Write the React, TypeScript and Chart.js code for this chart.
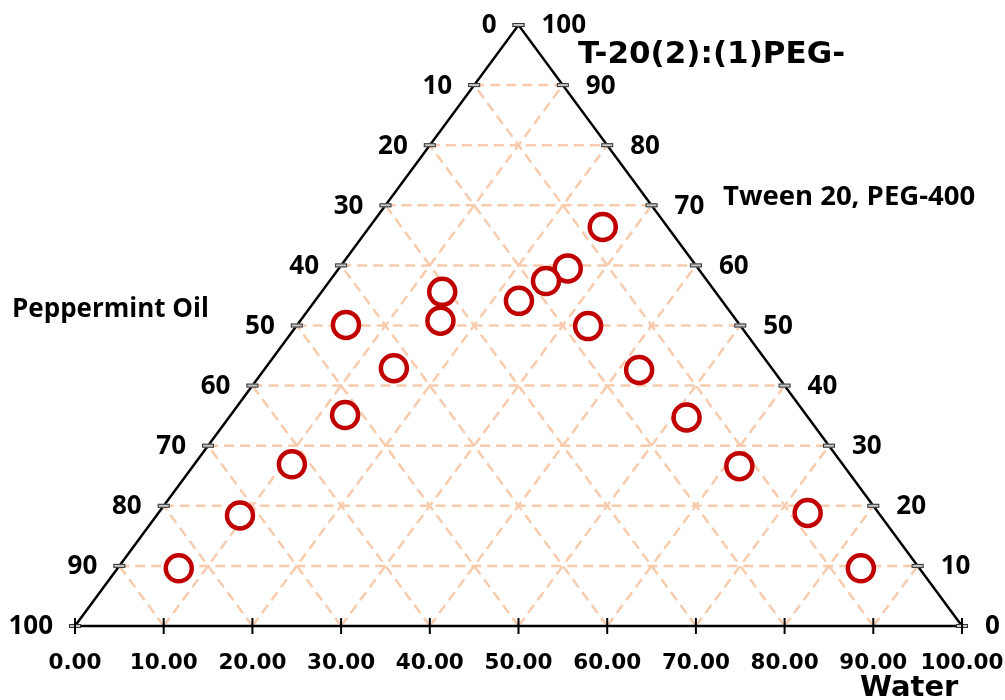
import React, { useEffect, useRef } from "react";
import { Chart, registerables } from "chart.js";

Chart.register(...registerables);

// Composition of each formulation (percent): Water and Tween 20 / PEG-400 (Smix); oil = 100 - water - smix
const waterValues = [26.3, 25.8, 24.4, 23.0, 13.6, 15.8, 5.5, 32.9, 14.5, 42.3, 12.9, 51.6, 11.0, 61.6, 9.4, 73.2, 6.9, 83.8];
const smixValues = [66.4, 59.5, 57.4, 54.1, 55.6, 50.8, 50.1, 49.9, 42.9, 42.6, 35.1, 34.7, 26.9, 26.6, 18.4, 18.8, 9.6, 9.6];

const gridSteps = [10, 20, 30, 40, 50, 60, 70, 80, 90];
const tickSteps = [0, 10, 20, 30, 40, 50, 60, 70, 80, 90, 100];
const bottomTickLabels = ["0.00", "10.00", "20.00", "30.00", "40.00", "50.00", "60.00", "70.00", "80.00", "90.00", "100.00"];
const leftTickLabels = ["100", "90", "80", "70", "60", "50", "40", "30", "20", "10", "0"];
const rightTickLabels = ["0", "10", "20", "30", "40", "50", "60", "70", "80", "90", "100"];

const titleText = "T-20(2):(1)PEG-";
const smixAxisTitle = "Tween 20, PEG-400";
const oilAxisTitle = "Peppermint Oil";
const waterAxisTitle = "Water";

// ternary -> cartesian (x along base, y = height)
const toXY = (water: number, smix: number) => ({ x: water + smix / 2, y: smix });

const GRID_COLOR = "#F8CBAD";

function buildDatasets() {
  const ds: any[] = [];
  const lineDs = (pts: { x: number; y: number }[]) => ({
    data: pts,
    showLine: true,
    borderColor: GRID_COLOR,
    borderWidth: 2.5,
    borderDash: [10, 6],
    pointRadius: 0,
    pointHoverRadius: 0,
    clip: false,
    order: 3,
  });
  for (const s of gridSteps) {
    // constant smix (horizontal)
    ds.push(lineDs([toXY(0, s), toXY(100 - s, s)]));
    // constant water
    ds.push(lineDs([toXY(s, 0), toXY(s, 100 - s)]));
    // constant oil (water + smix = 100 - s)
    ds.push(lineDs([toXY(100 - s, 0), toXY(0, 100 - s)]));
  }
  ds.push({
    data: [toXY(0, 0), toXY(0, 100), toXY(100, 0), toXY(0, 0)],
    showLine: true,
    borderColor: "#000000",
    borderWidth: 2.5,
    pointRadius: 0,
    pointHoverRadius: 0,
    clip: false,
    order: 2,
  });
  ds.push({
    data: waterValues.map((w, i) => toXY(w, smixValues[i])),
    showLine: false,
    pointStyle: "circle",
    pointRadius: 13,
    pointHoverRadius: 13,
    borderWidth: 4.5,
    borderColor: "#C00000",
    backgroundColor: "#FFFFFF",
    clip: false,
    order: 1,
  });
  return ds;
}

const overlayPlugin = {
  id: "ternaryOverlay",
  afterDraw(chart: any) {
    const { ctx, scales } = chart;
    const xs = scales.x;
    const ys = scales.y;
    const px = (p: { x: number; y: number }) => ({ x: xs.getPixelForValue(p.x), y: ys.getPixelForValue(p.y) });
    ctx.save();

    // side ticks (small boxes)
    const box = (cx: number, cy: number) => {
      ctx.fillStyle = "#C8C8C8";
      ctx.fillRect(cx - 6, cy - 2, 12, 4);
      ctx.strokeStyle = "#333333";
      ctx.lineWidth = 1;
      ctx.strokeRect(cx - 6 + 0.5, cy - 2 + 0.5, 11, 3);
    };

    ctx.textBaseline = "middle";
    tickSteps.forEach((t) => {
      const l = px(toXY(0, t));
      box(l.x, l.y);
      const r = px(toXY(100 - t, t));
      box(r.x, r.y);
    });

    ctx.fillStyle = "#000000";
    ctx.font = "bold 26px 'Open Sans'";
    tickSteps.forEach((t, i) => {
      const l = px(toXY(0, t));
      ctx.textAlign = "right";
      ctx.fillText(leftTickLabels[i], l.x - 22, l.y + 1);
      const r = px(toXY(100 - t, t));
      ctx.textAlign = "left";
      ctx.fillText(rightTickLabels[i], r.x + 23, r.y + 1);
    });

    // bottom ticks
    ctx.strokeStyle = "#000000";
    ctx.lineWidth = 2;
    ctx.font = "bold 21.5px 'DejaVu Sans'";
    ctx.textAlign = "center";
    tickSteps.forEach((w, i) => {
      const b = px(toXY(w, 0));
      ctx.beginPath();
      ctx.moveTo(b.x, b.y - 8);
      ctx.lineTo(b.x, b.y + 8);
      ctx.stroke();
      ctx.fillText(bottomTickLabels[i], b.x, b.y + 37);
    });

    // titles
    ctx.textAlign = "left";
    ctx.font = "bold 31px 'DejaVu Sans'";
    ctx.fillText(titleText, 578, 55);
    ctx.font = "bold 27.5px 'Open Sans'";
    ctx.fillText(smixAxisTitle, 723, 197);
    ctx.font = "bold 26px 'Open Sans'";
    ctx.fillText(oilAxisTitle, 12, 310);
    ctx.font = "bold 29px 'DejaVu Sans'";
    ctx.fillText(waterAxisTitle, 860, 688);

    ctx.restore();
  },
};

export default function App() {
  const canvasRef = useRef<HTMLCanvasElement | null>(null);

  useEffect(() => {
    if (!canvasRef.current) return;
    const chart = new Chart(canvasRef.current, {
      type: "scatter",
      data: { datasets: buildDatasets() },
      options: {
        responsive: false,
        animation: false,
        devicePixelRatio: 1,
        layout: { padding: { left: 75, right: 43, top: 25, bottom: 74 } },
        plugins: { legend: { display: false }, tooltip: { enabled: false }, title: { display: false } },
        scales: {
          x: { type: "linear", min: 0, max: 100, display: false },
          y: { type: "linear", min: 0, max: 100, display: false },
        },
      },
      plugins: [overlayPlugin],
    });
    return () => chart.destroy();
  }, []);

  return (
    <div style={{ position: "absolute", left: 0, top: 0, width: 1005, height: 700, background: "#fff" }}>
      <canvas ref={canvasRef} width={1005} height={700} />
    </div>
  );
}
